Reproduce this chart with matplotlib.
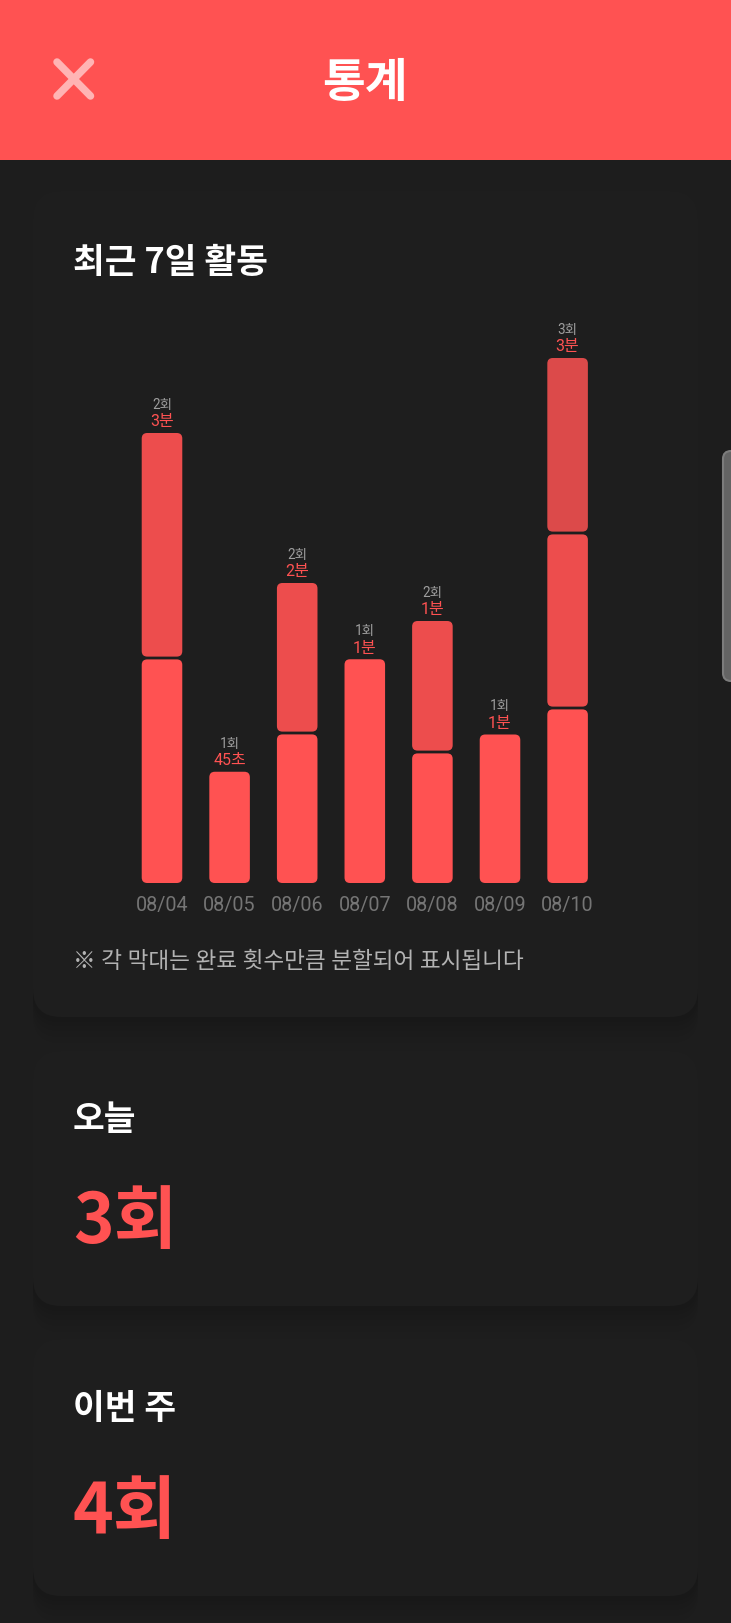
import matplotlib
matplotlib.use("Agg")
import matplotlib.pyplot as plt
from matplotlib.patches import FancyBboxPatch

# ---- data ----
dates = ["08/04", "08/05", "08/06", "08/07", "08/08", "08/09", "08/10"]
segments_sec = [[90, 90], [44.5], [60, 60], [89.5], [52.4, 52.4], [59.4], [70, 70, 70]]
count_labels = ["2회", "1회", "2회", "1회", "2회", "1회", "3회"]
time_labels = ["3분", "45초", "2분", "1분", "1분", "1분", "3분"]
header_title = "통계"
chart_title = "최근 7일 활동"
note_text = "※ 각 막대는 완료 횟수만큼 분할되어 표시됩니다"
stat_titles = ["오늘", "이번 주"]
stat_values = ["3회", "4회"]

# ---- style ----
W, H = 731, 1624
DPI = 100
RED = "#FF5252"
PAGE = "#1D1D1D"
CARD = "#1E1E1E"
FONT = ["Roboto", "Noto Sans CJK KR"]
KR = ["Noto Sans CJK KR", "Roboto"]
px = 72 / DPI

fig = plt.figure(figsize=(W / DPI, H / DPI), dpi=DPI, facecolor=PAGE)
bg = fig.add_axes([0, 0, 1, 1])
bg.set_xlim(0, W)
bg.set_ylim(H, 0)
bg.axis("off")


def rrect(x0, y0, x1, y1, r, **kw):
    p = FancyBboxPatch((x0, y0), x1 - x0, y1 - y0,
                       boxstyle=f"round,pad=0,rounding_size={r}", **kw)
    bg.add_patch(p)
    return p


# header
bg.fill_between([0, W], 0, 161, color=RED, lw=0, zorder=5)
bg.text(365, 83, header_title, color="white", fontsize=46.5 * px, fontweight="bold",
        family=KR, ha="center", va="center", zorder=6)
bg.plot([57, 90.5], [63, 97], color="#FFB4B4", lw=7.5 * px, solid_capstyle="round", zorder=6)
bg.plot([90.5, 57], [63, 97], color="#FFB4B4", lw=7.5 * px, solid_capstyle="round", zorder=6)

# cards with soft shadow
cards = [(192, 1018), (1052, 1307), (1340, 1597)]
for top, bottom in cards:
    for k, a in zip([26, 20, 14, 9, 5], [0.03, 0.04, 0.05, 0.06, 0.07]):
        rrect(33, top + 10, 698, bottom + k, 28, fc="#101010", ec="none", alpha=a, zorder=1)
    rrect(33, top, 698, bottom, 28, fc=CARD, ec="none", zorder=2)

# scrollbar handle
rrect(723, 452, 745, 682, 8, fc="#646464", ec="#7C7C7C", lw=1.5, zorder=6)

# card text
bg.text(73, 263, chart_title, color="white", fontsize=34.5 * px, fontweight="bold",
        family=KR, ha="left", va="center", zorder=6)
bg.text(73, 962, note_text, color="#B3B3B3", fontsize=22.6 * px, family=FONT,
        ha="left", va="center", zorder=6)
for title, value, ty, vy in zip(stat_titles, stat_values, [1120, 1409], [1223, 1513]):
    bg.text(73, ty, title, color="white", fontsize=34.5 * px, fontweight="bold",
            family=KR, ha="left", va="center", zorder=6)
    bg.text(73, vy, value, color=RED, fontsize=69 * px, fontweight="bold",
            family=KR, ha="left", va="center", zorder=6)

# ---- chart ----
left, right = 128.2, 601.4
top, bottom = 284, 884
ax = fig.add_axes([left / W, 1 - bottom / H, (right - left) / W, (bottom - top) / H])
ax.patch.set_alpha(0)
ax.set_xlim(-0.5, 6.5)
ax.set_ylim(0, 240)
for s in ax.spines.values():
    s.set_visible(False)
ax.set_yticks([])
ax.set_xticks(range(len(dates)))
ax.set_xticklabels(dates, color="#757575", fontsize=19.8 * px, family=FONT)
ax.tick_params(axis="x", length=0, pad=8.5)

bar_w = 0.60
x_px = (right - left) / 7
y_px = (bottom - top) / 240
gap = 1.4 / y_px
radius = 5.5 / x_px
aspect = x_px / y_px
alphas = [1.0, 0.925, 0.85]
for i, segs in enumerate(segments_sec):
    cum = 0
    for j, v in enumerate(segs):
        y0 = cum + (gap if j > 0 else 0)
        y1 = cum + v - (gap if j < len(segs) - 1 else 0)
        ax.add_patch(FancyBboxPatch((i - bar_w / 2, y0), bar_w, y1 - y0,
                                    boxstyle=f"round,pad=0,rounding_size={radius}",
                                    mutation_aspect=aspect, fc=RED, ec="none",
                                    alpha=alphas[j]))
        cum += v
    ax.annotate(time_labels[i], (i, cum), xytext=(0, 12 * px), textcoords="offset points",
                color=RED, fontsize=16 * px, family=FONT, ha="center", va="center")
    ax.annotate(count_labels[i], (i, cum), xytext=(0, 29 * px), textcoords="offset points",
                color="#9E9E9E", fontsize=13.5 * px, family=FONT, ha="center", va="center")

fig.savefig("out.png", dpi=DPI, facecolor=PAGE)
